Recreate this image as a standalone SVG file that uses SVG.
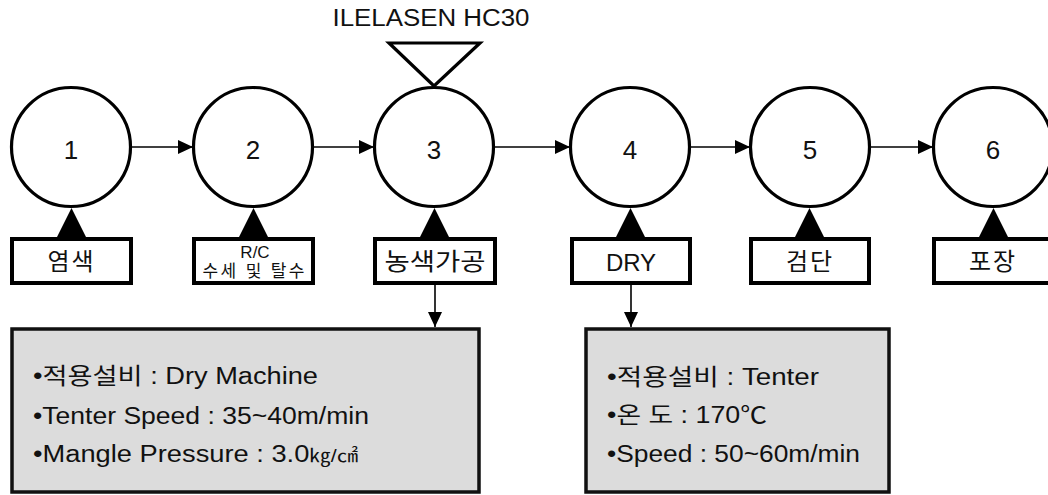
<svg xmlns="http://www.w3.org/2000/svg" width="1048" height="495" viewBox="0 0 1048 495">
<style>
text{font-family:"Liberation Sans","Noto Sans CJK KR",sans-serif;fill:#111}
.c{fill:#fff;stroke:#000;stroke-width:3.2}
.b{fill:#fff;stroke:#000;stroke-width:4}
.g{fill:#dcdcdc;stroke:#111;stroke-width:3.5}
.num{font-size:26px;text-anchor:middle}
.lab{font-size:24px;text-anchor:middle}
.info{font-size:23px}
.up{fill:#000}
.ln{stroke:#000;stroke-width:1.6;fill:none}
</style>
<defs>
<marker id="ah" markerWidth="15" markerHeight="14" refX="15" refY="7" orient="auto" markerUnits="userSpaceOnUse">
<path d="M0,0 L15,7 L0,14 Z" fill="#000"/>
</marker>
</defs>
<rect width="1048" height="495" fill="#fff"/>

<g id="additive">
<text x="431" y="26" font-size="23" text-anchor="middle" textLength="197" lengthAdjust="spacingAndGlyphs">ILELASEN HC30</text>
<polygon points="389,43 480,43 434,86" fill="#fff" stroke="#000" stroke-width="3.2"/>
</g>

<g id="connectors">
<line class="ln" x1="132" y1="147" x2="193" y2="147" marker-end="url(#ah)"/>
<line class="ln" x1="314" y1="147" x2="374" y2="147" marker-end="url(#ah)"/>
<line class="ln" x1="495" y1="147" x2="570" y2="147" marker-end="url(#ah)"/>
<line class="ln" x1="690" y1="147" x2="750" y2="147" marker-end="url(#ah)"/>
<line class="ln" x1="870" y1="147" x2="933" y2="147" marker-end="url(#ah)"/>
<line class="ln" x1="435" y1="285" x2="435" y2="327" marker-end="url(#ah)"/>
<line class="ln" x1="631" y1="285" x2="631" y2="327" marker-end="url(#ah)"/>
<polygon class="up" points="57,237 86,237 71.5,208"/>
<polygon class="up" points="239,237 268,237 253.5,208"/>
<polygon class="up" points="420,237 449,237 434.5,208"/>
<polygon class="up" points="616,237 645,237 630.5,208"/>
<polygon class="up" points="795,237 824,237 809.5,208"/>
<polygon class="up" points="979,237 1008,237 993.5,208"/>
</g>

<g id="node1">
<circle class="c" cx="71" cy="147" r="59.5"/>
<text class="num" x="71" y="159">1</text>
</g>
<g id="node2">
<circle class="c" cx="253" cy="147" r="59.5"/>
<text class="num" x="253" y="159">2</text>
</g>
<g id="node3">
<circle class="c" cx="434" cy="147" r="59.5"/>
<text class="num" x="434" y="159">3</text>
</g>
<g id="node4">
<circle class="c" cx="630" cy="147" r="59.5"/>
<text class="num" x="630" y="159">4</text>
</g>
<g id="node5">
<circle class="c" cx="810" cy="147" r="59.5"/>
<text class="num" x="810" y="159">5</text>
</g>
<g id="node6">
<circle class="c" cx="993" cy="147" r="59.5"/>
<text class="num" x="993" y="159">6</text>
</g>

<g id="box1">
<rect class="b" x="12" y="239" width="119" height="44"/>
<text class="lab" x="71.5" y="270" letter-spacing="2">염색</text>
</g>
<g id="box2">
<rect class="b" x="194" y="239" width="119" height="44"/>
<text x="255" y="258" font-size="17" text-anchor="middle">R/C</text>
<text x="253.5" y="277" font-size="17" text-anchor="middle" textLength="102" lengthAdjust="spacing">수세 및 탈수</text>
</g>
<g id="box3">
<rect class="b" x="375" y="239" width="120" height="44"/>
<text class="lab" x="435" y="270" textLength="101" lengthAdjust="spacingAndGlyphs">농색가공</text>
</g>
<g id="box4">
<rect class="b" x="572" y="239" width="118" height="44"/>
<text class="lab" x="631" y="271">DRY</text>
</g>
<g id="box5">
<rect class="b" x="751" y="239" width="118" height="44"/>
<text class="lab" x="810" y="270" letter-spacing="2">검단</text>
</g>
<g id="box6">
<rect class="b" x="934" y="239" width="120" height="44"/>
<text class="lab" x="993" y="270" letter-spacing="2">포장</text>
</g>

<g id="info1">
<rect class="g" x="12" y="329" width="467" height="163"/>
<text class="info" x="33" y="384" textLength="285" lengthAdjust="spacingAndGlyphs">•적용설비 : Dry Machine</text>
<text class="info" x="33" y="424" textLength="336" lengthAdjust="spacingAndGlyphs">•Tenter Speed : 35~40m/min</text>
<text class="info" x="33" y="462" textLength="325" lengthAdjust="spacingAndGlyphs">•Mangle Pressure : 3.0<tspan font-size="18">㎏/㎠</tspan></text>
</g>
<g id="info2">
<rect class="g" x="586" y="329" width="303" height="163"/>
<text class="info" x="607" y="385" textLength="212" lengthAdjust="spacingAndGlyphs">•적용설비 : Tenter</text>
<text class="info" x="607" y="423" textLength="160" lengthAdjust="spacingAndGlyphs">•온 도 : 170℃</text>
<text class="info" x="607" y="462" textLength="253" lengthAdjust="spacingAndGlyphs">•Speed : 50~60m/min</text>
</g>
</svg>
